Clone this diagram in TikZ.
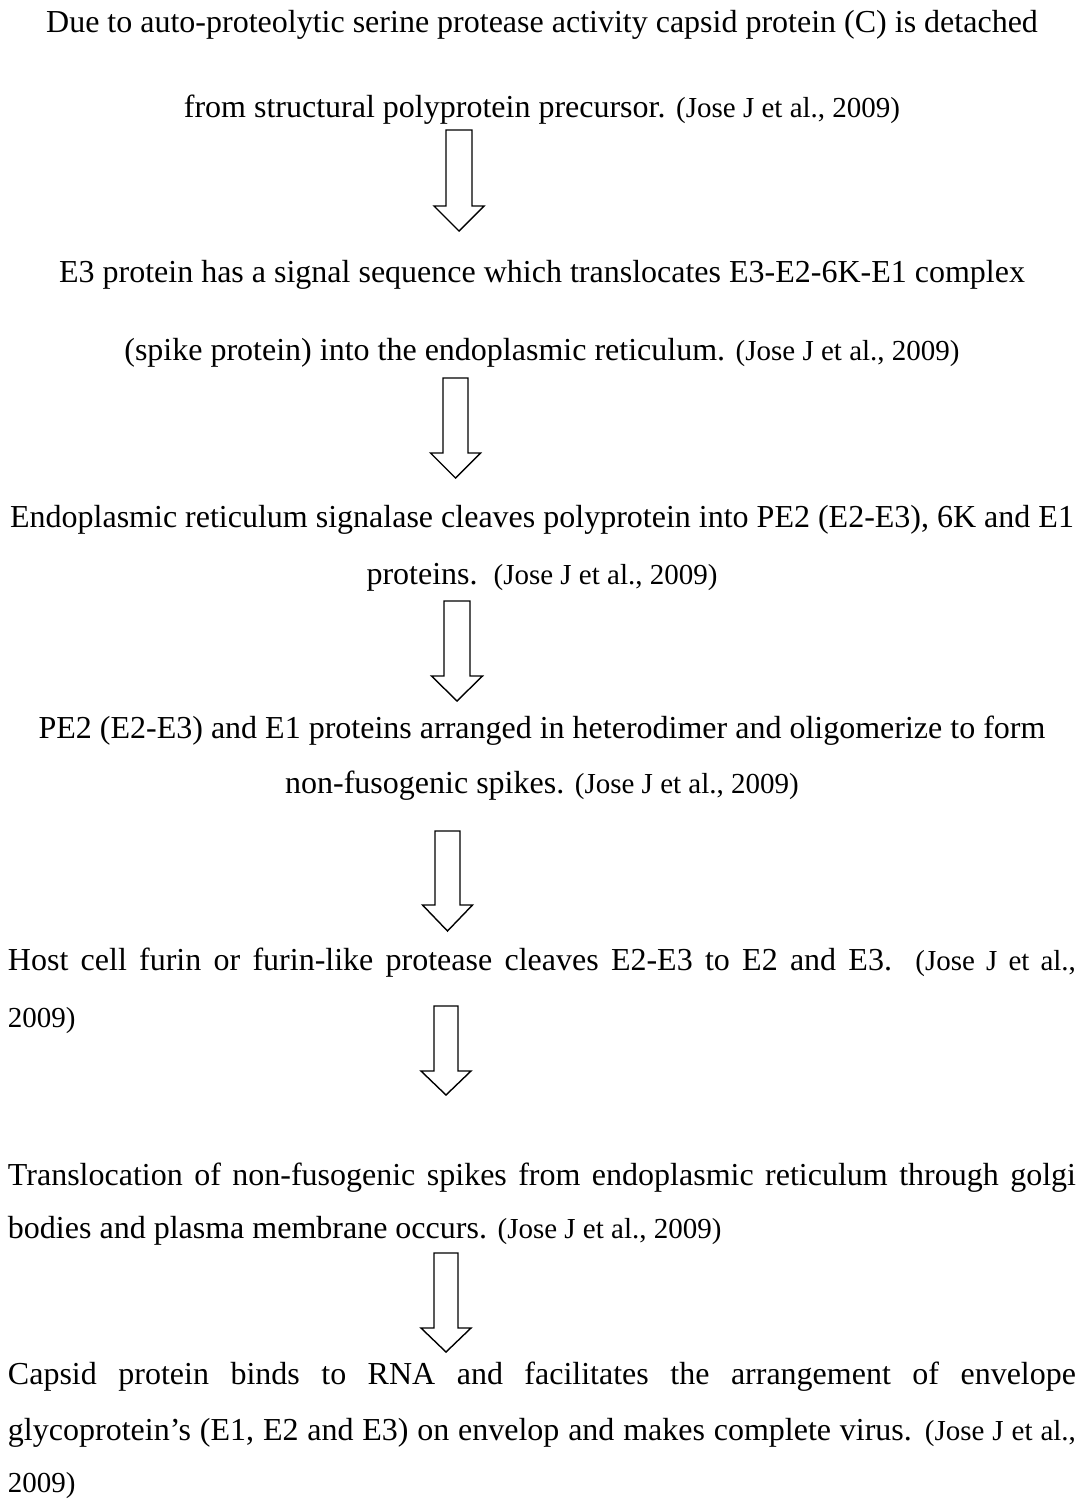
\documentclass[tikz,border=0pt]{standalone}
\usepackage{fontspec}
\setmainfont{Liberation Serif}
\newcommand{\cit}[1]{{\fontsize{29}{34}\selectfont #1}}
\newcommand{\jline}[1]{\makebox[1068pt][s]{#1}}
\newcommand{\blockarrow}[6]{% cx, top, base, tip, half shaft, half head
  \draw[blk] (#1-#5,#2) -- (#1+#5,#2) -- (#1+#5,#3) -- (#1+#6,#3) -- (#1,#4)
    -- (#1-#6,#3) -- (#1-#5,#3) -- cycle;}
\tikzset{
  txt/.style={inner sep=0pt, outer sep=0pt, anchor=base, font=\fontsize{32}{38}\selectfont},
  txtl/.style={txt, anchor=base west},
  blk/.style={draw=black, line width=1.4pt, fill=white, line join=miter}
}
\begin{document}
\begin{tikzpicture}[x=1pt,y=-1pt]
\useasboundingbox[fill=white] (0,0) rectangle (1084,1500);
% paragraph 1
\node[txt] (l1) at (542,32) {Due to auto-proteolytic serine protease activity capsid protein (C) is detached};
\node[txt] (l2) at (542,117) {from structural polyprotein precursor. \cit{(Jose J et al., 2009)}};
\blockarrow{459}{130}{206}{231}{13}{25}
% paragraph 2
\node[txt] (l3) at (542,282) {E3 protein has a signal sequence which translocates E3-E2-6K-E1 complex};
\node[txt] (l4) at (542,360) {(spike protein) into the endoplasmic reticulum. \cit{(Jose J et al., 2009)}};
\blockarrow{455.5}{378}{453}{478}{12.5}{25}
% paragraph 3
\node[txt] (l5) at (542,527) {Endoplasmic reticulum signalase cleaves polyprotein into PE2 (E2-E3), 6K and E1};
\node[txt] (l6) at (542,584) {proteins.\ \ \cit{(Jose J et al., 2009)}};
\blockarrow{457}{601}{676}{701}{13}{25.5}
% paragraph 4
\node[txt] (l7) at (542,738) {PE2 (E2-E3) and E1 proteins arranged in heterodimer and oligomerize to form};
\node[txt] (l8) at (542,793) {non-fusogenic spikes. \cit{(Jose J et al., 2009)}};
\blockarrow{447.5}{831}{905}{931}{12.5}{25}
% paragraph 5
\node[txtl] (l9) at (8,970) {\jline{Host cell furin or furin-like protease cleaves E2-E3 to E2 and E3. \cit{(Jose J et al.,}}};
\node[txtl] (l10) at (8,1027) {\cit{2009)}};
\blockarrow{446}{1006}{1071}{1095}{12}{25}
% paragraph 6
\node[txtl] (l11) at (8,1185) {\jline{Translocation of non-fusogenic spikes from endoplasmic reticulum through golgi}};
\node[txtl] (l12) at (8,1238) {bodies and plasma membrane occurs. \cit{(Jose J et al., 2009)}};
\blockarrow{446}{1253}{1328}{1352}{12}{25}
% paragraph 7
\node[txtl] (l13) at (8,1384) {\jline{Capsid protein binds to RNA and facilitates the arrangement of envelope}};
\node[txtl] (l14) at (8,1440) {\jline{glycoprotein’s (E1, E2 and E3) on envelop and makes complete virus. \cit{(Jose J et al.,}}};
\node[txtl] (l15) at (8,1492) {\cit{2009)}};
\end{tikzpicture}
\end{document}
